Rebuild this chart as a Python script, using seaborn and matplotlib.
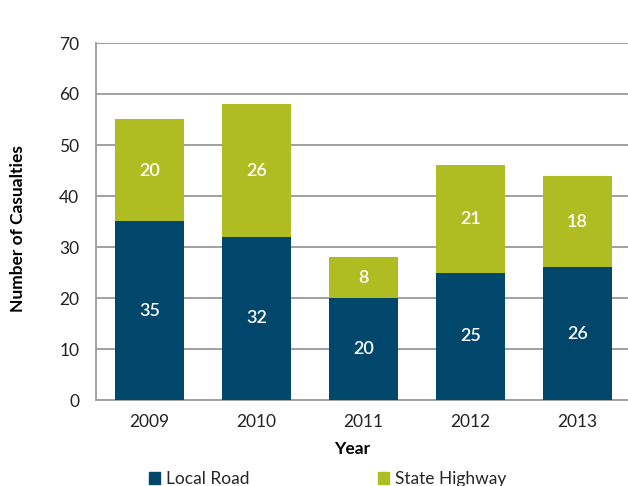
import matplotlib
matplotlib.use("Agg")
import matplotlib.pyplot as plt
import seaborn as sns
import pandas as pd
from matplotlib.patches import Patch

years = ["2009", "2010", "2011", "2012", "2013"]
local_road = [35, 32, 20, 25, 26]
state_highway = [20, 26, 8, 21, 18]
series_names = ["Local Road", "State Highway"]
y_ticks = [0, 10, 20, 30, 40, 50, 60, 70]

blue = "#00476b"
green = "#b0bd22"
grid_c = "#a0a0a0"

sns.set_theme(style="white")
plt.rcParams["font.family"] = ["Lato", "DejaVu Sans"]

df = pd.DataFrame({"Year": years, "Local": local_road, "Highway": state_highway})
df["Total"] = df["Local"] + df["Highway"]

fig = plt.figure(figsize=(6.28, 4.86), dpi=100)
ax = fig.add_axes([96/628, 1-400/486, 535/628, 357/486])

sns.barplot(data=df, x="Year", y="Total", color=green, width=0.65, ax=ax,
            saturation=1, zorder=3, linewidth=0, edgecolor="none")
sns.barplot(data=df, x="Year", y="Local", color=blue, width=0.65, ax=ax,
            saturation=1, zorder=3, linewidth=0, edgecolor="none")

for i, (l, h) in enumerate(zip(local_road, state_highway)):
    ax.text(i, l/2, str(l), ha="center", va="center", color="white", fontsize=13,
            fontweight="semibold", zorder=4)
    ax.text(i, l + h/2, str(h), ha="center", va="center", color="white", fontsize=13,
            fontweight="semibold", zorder=4)

ax.set_ylim(0, 70)
ax.set_yticks(y_ticks)
ax.yaxis.grid(True, color=grid_c, linewidth=1.4, zorder=0)
ax.set_axisbelow(True)
for s in ["top", "right"]:
    ax.spines[s].set_visible(False)
for s in ["left", "bottom"]:
    ax.spines[s].set_color(grid_c)
    ax.spines[s].set_linewidth(1.4)
ax.tick_params(axis="both", length=0, labelsize=12.5, colors="#222222")
ax.tick_params(axis="y", pad=12)
ax.tick_params(axis="x", pad=10)

ax.set_xlabel("Year", fontsize=12.5, fontweight="bold", color="black")
ax.xaxis.set_label_coords((352-96)/535, -0.115)
ax.set_ylabel("Number of Casualties", fontsize=12.5, fontweight="bold", color="black")
ax.yaxis.set_label_coords(-0.13, 0.48)

handles = [Patch(color=blue, label=series_names[0]), Patch(color=green, label=series_names[1])]
fig.legend(handles=handles, loc="center left", bbox_to_anchor=(133/628, 1-479/486),
           ncol=2, frameon=False, fontsize=12.5, handlelength=0.65, handleheight=0.65,
           handletextpad=0.35, columnspacing=7.4)

fig.savefig("out.png", dpi=100)
